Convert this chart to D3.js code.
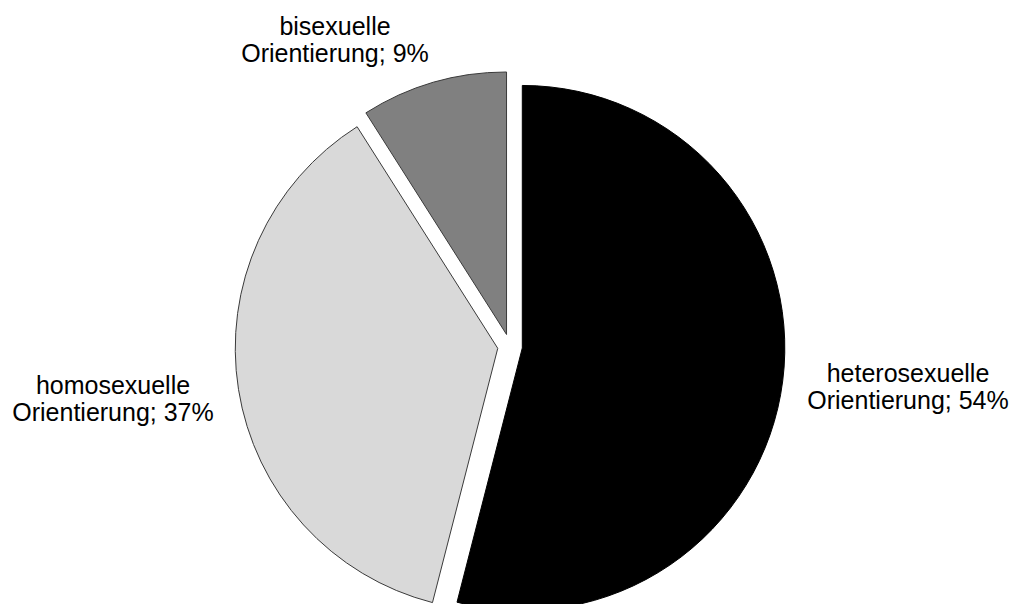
<!DOCTYPE html>
<html>
<head>
<meta charset="utf-8">
<script src="https://cdn.jsdelivr.net/npm/d3@7"></script>
<style>
  html, body { margin: 0; padding: 0; background: #ffffff; }
  svg { display: block; }
  text { font-family: "Liberation Sans", Arial, sans-serif; fill: #000; }
</style>
</head>
<body>
<svg id="chart" width="1016" height="604"></svg>
<script>
// Sexuelle Orientierung – Anteile in Prozent
const categories = ["heterosexuelle", "homosexuelle", "bisexuelle"];
const shares = [54, 37, 9];
const fills = ["#000000", "#d9d9d9", "#808080"];

const W = 1016, H = 604;
const cx = 510, cy = 346.4;       // pie centre
const R = 262.5;                  // pie radius
const explode = 12.4;             // each slice pulled out along its bisector

// first-line baseline of each label (centred), relative to the pie centre
const labelOffset = {
  heterosexuelle: [398, 35.6],
  homosexuelle:   [-397, 47.6],
  bisexuelle:     [-175, -311.4]
};

const svg = d3.select("#chart");

const rows = categories.map((c, i) => ({ name: c, value: shares[i], fill: fills[i] }));

const pie = d3.pie().sort(null).value(d => d.value).startAngle(0).endAngle(2 * Math.PI);
const arc = d3.arc().innerRadius(0).outerRadius(R);

const arcs = pie(rows);

const g = svg.append("g").attr("transform", `translate(${cx},${cy})`);

g.selectAll("path.slice")
  .data(arcs)
  .join("path")
  .attr("class", "slice")
  .attr("transform", d => {
    const a = (d.startAngle + d.endAngle) / 2;
    return `translate(${explode * Math.sin(a)},${-explode * Math.cos(a)})`;
  })
  .attr("d", arc)
  .attr("fill", d => d.data.fill)
  .attr("stroke", d => d.data.fill === "#000000" ? "#000000" : "#3a3a3a")
  .attr("stroke-width", 1)
  .attr("stroke-linejoin", "miter");

// data labels: category on the first line, "Orientierung; xx%" on the second
const lineGap = 27;
const labels = g.selectAll("text.label")
  .data(arcs)
  .join("text")
  .attr("class", "label")
  .attr("text-anchor", "middle")
  .attr("font-size", 25)
  .attr("transform", d => {
    const o = labelOffset[d.data.name];
    return `translate(${o[0]},${o[1]})`;
  });

labels.append("tspan")
  .attr("x", 0)
  .attr("y", 0)
  .text(d => d.data.name);

labels.append("tspan")
  .attr("x", 0)
  .attr("y", lineGap)
  .text(d => `Orientierung; ${d.data.value}%`);
</script>
</body>
</html>
